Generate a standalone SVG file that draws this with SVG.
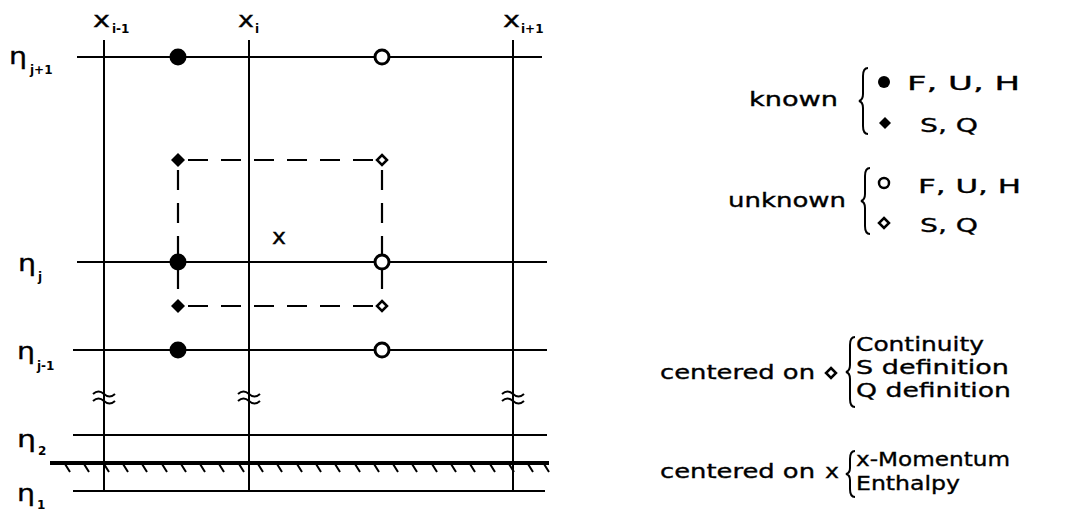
<svg xmlns="http://www.w3.org/2000/svg" width="1079" height="512" viewBox="0 0 1079 512">
<style>
.ln{stroke:#000;stroke-width:2;fill:none}
.wall{stroke:#000;stroke-width:4;fill:none}
.dash{stroke:#000;stroke-width:2.2;stroke-dasharray:20 13;fill:none}
.t{font-family:"DejaVu Sans","Liberation Sans",sans-serif;fill:#000;stroke:#000;stroke-width:0.35}
.lab{font-size:22px}
.eta{font-size:23px}
.sub{font-size:12px;font-weight:bold;stroke-width:0}
.leg{font-size:20px}
.fill{fill:#000;stroke:none}
.open{fill:#fff;stroke:#000;stroke-width:3}
.openl{fill:#fff;stroke:#000;stroke-width:2.5}
</style>
<defs>
<path id="brk" d="M-11 -3 q5.5 -5 11 0 t11 0 M-11 4 q5.5 -5 11 0 t11 0" class="ln" stroke-width="1.8"/>
</defs>
<g id="connectors">
<g id="grid">
<line class="ln" x1="104" y1="40" x2="104" y2="491"/>
<line class="ln" x1="249" y1="40" x2="249" y2="491"/>
<line class="ln" x1="513" y1="40" x2="513" y2="491"/>
<line class="ln" x1="77" y1="57" x2="542" y2="57"/>
<line class="ln" x1="77" y1="262" x2="547" y2="262"/>
<line class="ln" x1="73" y1="350" x2="547" y2="350"/>
<line class="ln" x1="73" y1="435" x2="547" y2="435"/>
<line class="ln" x1="73" y1="491" x2="545" y2="491"/>
</g>
<g id="breaks">
<use href="#brk" x="104" y="397"/>
<use href="#brk" x="249" y="397"/>
<use href="#brk" x="513" y="397"/>
</g>
<g id="wall">
<line class="wall" x1="50" y1="463" x2="549" y2="463"/>
<path class="ln" d="M65 464l5 8M84 464l5 8M104 464l5 8M123 464l5 8M142 464l5 8M162 464l5 8M181 464l5 8M200 464l5 8M219 464l5 8M239 464l5 8M258 464l5 8M277 464l5 8M297 464l5 8M316 464l5 8M335 464l5 8M355 464l5 8M374 464l5 8M393 464l5 8M412 464l5 8M432 464l5 8M451 464l5 8M470 464l5 8M490 464l5 8M509 464l5 8M528 464l5 8M544 464l5 8"/>
</g>
<g id="cell">
<line class="dash" x1="188" y1="160" x2="374" y2="160"/>
<line class="dash" x1="188" y1="306" x2="374" y2="306"/>
<line class="dash" x1="178" y1="170" x2="178" y2="298"/>
<line class="dash" x1="382" y1="170" x2="382" y2="298"/>
</g>
</g>
<g id="nodes">
<circle id="k1" class="fill" cx="178" cy="57" r="8.5"/>
<circle id="k2" class="fill" cx="178" cy="262" r="8.5"/>
<circle id="k3" class="fill" cx="178" cy="350" r="8.5"/>
<circle id="u1" class="open" cx="382" cy="57" r="7"/>
<circle id="u2" class="open" cx="382" cy="262" r="7"/>
<circle id="u3" class="open" cx="382" cy="350" r="7"/>
<path id="kd1" class="fill" d="M178 153l7 7l-7 7l-7 -7z"/>
<path id="kd2" class="fill" d="M178 299l7 7l-7 7l-7 -7z"/>
<path id="ud1" class="openl" d="M382 155l5 5l-5 5l-5 -5z"/>
<path id="ud2" class="openl" d="M382 301l5 5l-5 5l-5 -5z"/>
<text id="xmark" class="t" x="272" y="244" font-size="21" textLength="14" lengthAdjust="spacingAndGlyphs">x</text>
</g>
<g id="labels">
<text class="t lab" x="93" y="27" textLength="17" lengthAdjust="spacingAndGlyphs">x</text><text class="t sub" x="112" y="33">i-1</text>
<text class="t lab" x="238" y="27" textLength="16" lengthAdjust="spacingAndGlyphs">x</text><text class="t sub" x="255" y="33">i</text>
<text class="t lab" x="503" y="27" textLength="17" lengthAdjust="spacingAndGlyphs">x</text><text class="t sub" x="521" y="33">i+1</text>
<text class="t eta" x="9" y="64" textLength="18" lengthAdjust="spacingAndGlyphs">η</text><text class="t sub" x="30" y="74">j+1</text>
<text class="t eta" x="18" y="271" textLength="18" lengthAdjust="spacingAndGlyphs">η</text><text class="t sub" x="38" y="281">j</text>
<text class="t eta" x="17" y="359" textLength="18" lengthAdjust="spacingAndGlyphs">η</text><text class="t sub" x="37" y="370">j-1</text>
<text class="t eta" x="17" y="447" textLength="19" lengthAdjust="spacingAndGlyphs">η</text><text class="t sub" x="38" y="455" font-size="14">2</text>
<text class="t eta" x="17" y="501" textLength="18" lengthAdjust="spacingAndGlyphs">η</text><text class="t sub" x="37" y="509">1</text>
</g>
<g id="legend">
<g id="known">
<text class="t leg" x="749" y="106" textLength="89" lengthAdjust="spacingAndGlyphs">known</text>
<path class="ln" d="M868 68 q-5 0 -5 8 v18 q0 6 -4 7 q4 1 4 7 v18 q0 8 5 8"/>
<circle class="fill" cx="884" cy="82" r="6"/>
<text class="t leg" x="907" y="90" textLength="113" lengthAdjust="spacingAndGlyphs">F, U, H</text>
<path class="fill" d="M885 117l6 6l-6 6l-6 -6z"/>
<text class="t leg" x="920" y="132" textLength="58" lengthAdjust="spacingAndGlyphs">S, Q</text>
</g>
<g id="unknown">
<text class="t leg" x="728" y="207" textLength="118" lengthAdjust="spacingAndGlyphs">unknown</text>
<path class="ln" d="M870 168 q-5 0 -5 8 v18 q0 6 -4 7 q4 1 4 7 v18 q0 8 5 8"/>
<circle class="openl" cx="884" cy="183" r="5"/>
<text class="t leg" x="918" y="193" textLength="103" lengthAdjust="spacingAndGlyphs">F, U, H</text>
<path class="openl" d="M884 218l5 5l-5 5l-5 -5z"/>
<text class="t leg" x="920" y="232" textLength="58" lengthAdjust="spacingAndGlyphs">S, Q</text>
</g>
<g id="centered-diamond">
<text class="t leg" x="660" y="379" textLength="155" lengthAdjust="spacingAndGlyphs">centered on</text>
<path class="openl" d="M831 368l5 5l-5 5l-5 -5z"/>
<path class="ln" d="M855 337 q-5 0 -5 8 v20 q0 6 -4 7 q4 1 4 7 v20 q0 8 5 8"/>
<text class="t leg" x="856" y="351" textLength="128" lengthAdjust="spacingAndGlyphs">Continuity</text>
<text class="t leg" x="856" y="374" textLength="153" lengthAdjust="spacingAndGlyphs">S definition</text>
<text class="t leg" x="856" y="397" textLength="155" lengthAdjust="spacingAndGlyphs">Q definition</text>
</g>
<g id="centered-x">
<text class="t leg" x="660" y="478" textLength="155" lengthAdjust="spacingAndGlyphs">centered on</text>
<text class="t leg" x="825" y="478" textLength="14" lengthAdjust="spacingAndGlyphs">x</text>
<path class="ln" d="M855 451 q-5 0 -5 8 v9 q0 5 -4 6 q4 1 4 6 v9 q0 8 5 8"/>
<text class="t leg" x="856" y="466" textLength="154" lengthAdjust="spacingAndGlyphs">x-Momentum</text>
<text class="t leg" x="856" y="490" textLength="104" lengthAdjust="spacingAndGlyphs">Enthalpy</text>
</g>
</g>
</svg>
